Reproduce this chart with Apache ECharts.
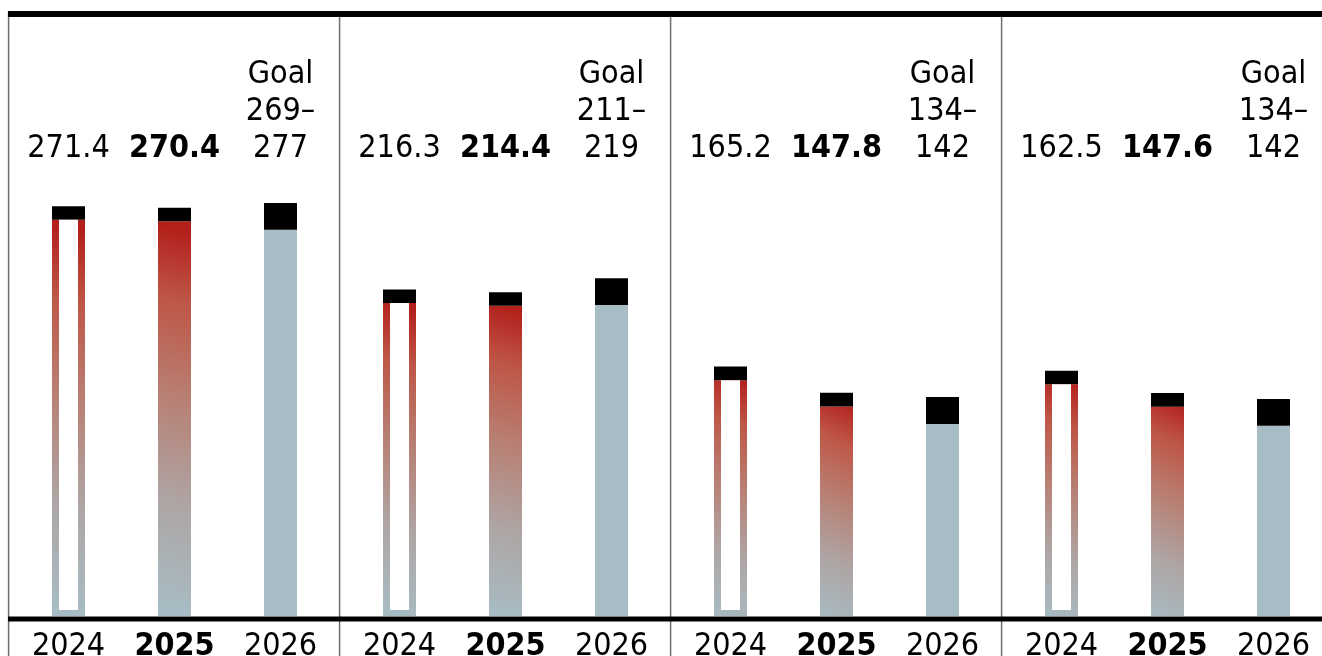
<!DOCTYPE html>
<html>
<head>
<meta charset="utf-8">
<script src="https://cdn.jsdelivr.net/npm/echarts@6/dist/echarts.min.js"></script>
<style>
html,body{margin:0;padding:0;background:#fff;}
#chart{width:1322px;height:656px;}
</style>
</head>
<body>
<div id="chart"></div>
<script>
// ---- data ----
const years = ['2024', '2025', '2026'];
const actual2024 = [271.4, 216.3, 165.2, 162.5];
const actual2025 = [270.4, 214.4, 147.8, 147.6];
const goalLow = [269, 211, 134, 134];
const goalHigh = [277, 219, 142, 142];
// drawn extent of the black goal block
const goalBarBase = [255.8, 206.0, 127.2, 126.0];
const goalBarTop = [273.5, 223.6, 145.0, 143.7];

// ---- styling constants ----
const CAP = 9;          // black cap on the actual bars (value units)
const HOLLOW_FLOOR = 4; // thickness of the hollow bar's bottom edge (value units)
const FONT = "'Liberation Sans Narrow', 'DejaVu Sans Condensed', 'Roboto Condensed', Roboto, sans-serif";
const FS = 32;
const PANEL_W = 331;
const BLUE = '#a7bcc4';

function grad() {
  return {
    type: 'linear', x: -1, y: 1, x2: 2, y2: 0,
    colorStops: [
      {offset: 0.04, color: BLUE},
      {offset: 0.30, color: '#aea5a4'},
      {offset: 0.55, color: '#b88074'},
      {offset: 0.78, color: '#be5747'},
      {offset: 0.95, color: '#b3201c'}
    ]
  };
}

const grid = [], xAxis = [], yAxis = [], series = [];
for (let i = 0; i < 4; i++) {
  grid.push({left: 15.5 + PANEL_W * i, width: 318, top: 12, height: 604, outerBoundsMode: 'none', containLabel: false});
  xAxis.push({
    gridIndex: i, type: 'category', data: years,
    axisLine: {show: false}, axisTick: {show: false},
    axisLabel: {
      interval: 0, margin: 15,
      formatter: v => v === '2025' ? '{b|' + v + '}' : '{n|' + v + '}',
      rich: {
        n: {fontFamily: FONT, fontSize: FS, color: '#000', lineHeight: FS},
        b: {fontFamily: FONT, fontSize: FS, fontWeight: 'bold', color: '#000', lineHeight: FS}
      }
    }
  });
  xAxis.push({gridIndex: i, type: 'category', data: years, show: false});
  yAxis.push({gridIndex: i, type: 'value', min: 0, max: 400, show: false});

  series.push({
    type: 'bar', xAxisIndex: 2 * i, yAxisIndex: i, stack: 'p' + i, barWidth: 33,
    silent: true,
    data: [
      {value: actual2024[i] - CAP, itemStyle: {color: grad()}},
      {value: actual2025[i] - CAP, itemStyle: {color: grad()}},
      {value: goalBarBase[i], itemStyle: {color: BLUE}}
    ]
  });
  series.push({
    type: 'bar', xAxisIndex: 2 * i, yAxisIndex: i, stack: 'p' + i, barWidth: 33,
    silent: true, itemStyle: {color: '#000'},
    data: [CAP, CAP, goalBarTop[i] - goalBarBase[i]]
  });
  // hollow interior of the 2024 bar
  series.push({
    type: 'bar', xAxisIndex: 2 * i + 1, yAxisIndex: i, stack: 'h' + i, barWidth: 19,
    silent: true, itemStyle: {color: 'rgba(0,0,0,0)'},
    data: [HOLLOW_FLOOR, '-', '-']
  });
  series.push({
    type: 'bar', xAxisIndex: 2 * i + 1, yAxisIndex: i, stack: 'h' + i, barWidth: 19,
    silent: true, itemStyle: {color: '#fff'},
    data: [actual2024[i] - CAP - HOLLOW_FLOOR, '-', '-']
  });
}

const chart = echarts.init(document.getElementById('chart'), null, {renderer: 'canvas'});
chart.setOption({
  animation: false,
  backgroundColor: '#fff',
  grid, xAxis, yAxis, series
});

// ---- decoration and value labels ----
const g = [];
g.push({type: 'rect', shape: {x: 8, y: 11, width: 1314, height: 6}, style: {fill: '#000'}, z: 10});
g.push({type: 'rect', shape: {x: 8, y: 616.5, width: 1314, height: 5}, style: {fill: '#000'}, z: 10});
for (let i = 0; i < 4; i++) {
  const x = 8.6 + PANEL_W * i;
  g.push({type: 'line', shape: {x1: x, y1: 11, x2: x, y2: 656}, style: {stroke: '#6f6f6f', lineWidth: 1.5}, z: 9});
}
function txt(text, x, y, bold) {
  return {
    type: 'text', z: 10,
    style: {
      text, x, y, fill: '#000',
      fontFamily: FONT, fontSize: FS, fontWeight: bold ? 'bold' : 'normal',
      align: 'center', verticalAlign: 'middle',
      textAlign: 'center', textVerticalAlign: 'middle'
    }
  };
}
for (let i = 0; i < 4; i++) {
  const xs = years.map(y => chart.convertToPixel({xAxisIndex: 2 * i}, y));
  g.push(txt(actual2024[i].toFixed(1), xs[0], 149, false));
  g.push(txt(actual2025[i].toFixed(1), xs[1], 149, true));
  g.push(txt('Goal', xs[2], 75, false));
  g.push(txt(goalLow[i] + '–', xs[2], 112, false));
  g.push(txt(String(goalHigh[i]), xs[2], 149, false));
}
chart.setOption({graphic: g});
</script>
</body>
</html>
